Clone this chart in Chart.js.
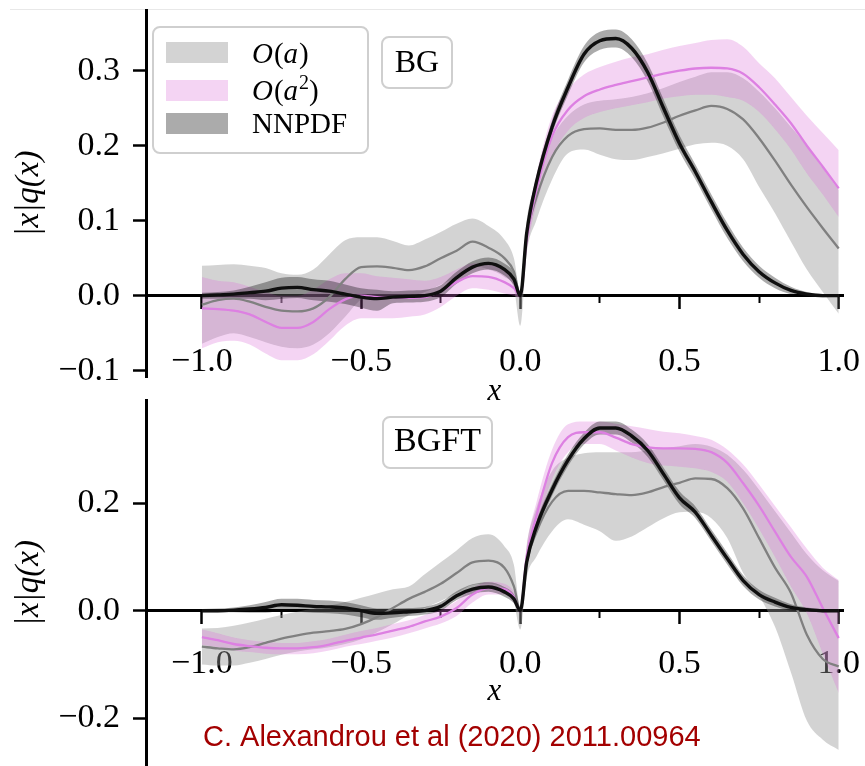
<!DOCTYPE html>
<html>
<head>
<meta charset="utf-8">
<script src="https://cdn.jsdelivr.net/npm/chart.js@4.4.1/dist/chart.umd.min.js"></script>
<style>
  html, body { margin: 0; padding: 0; background: #fff; }
  #wrap { position: relative; width: 865px; height: 766px; overflow: hidden; background: #fff; }
  canvas { position: absolute; left: 0; }
</style>
</head>
<body>
<div id="wrap">
  <div style="position:absolute;left:10px;top:9px;width:855px;height:0;border-top:1px solid #e8e8e8"></div>
  <canvas id="c1" width="865" height="410" style="top:0"></canvas>
  <canvas id="c2" width="865" height="376" style="top:390px"></canvas>
</div>
<script>
// ---------- data ----------
const X = [-1.0,-0.95,-0.9,-0.85,-0.8,-0.75,-0.7,-0.65,-0.6,-0.55,-0.5,-0.45,-0.4,-0.35,-0.3,-0.25,-0.2,-0.15,-0.1,-0.05,-0.02,0,0.02,0.05,0.1,0.15,0.2,0.25,0.3,0.35,0.4,0.45,0.5,0.55,0.6,0.65,0.7,0.75,0.8,0.85,0.9,0.95,1.0];

const SERIES = ['O(a)', 'O(a²)', 'NNPDF'];
const PANEL_LABELS = ['BG', 'BGFT'];
const X_MAJOR = [-1.0, -0.5, 0.0, 0.5, 1.0];
const X_MINOR = [-0.75, -0.25, 0.25, 0.75];
const Y_TICKS_BG = [-0.1, 0.0, 0.1, 0.2, 0.3];
const Y_TICKS_BGFT = [-0.2, 0.0, 0.2];
const Y_TITLE = '|x|q(x)';
const X_TITLE = 'x';
const CAPTION = 'C. Alexandrou et al (2020) 2011.00964';

// BG panel
const BG_OA    = [-0.012,-0.006,-0.004,-0.008,-0.015,-0.02,-0.021,-0.017,-0.002,0.022,0.038,0.039,0.037,0.034,0.039,0.05,0.06,0.072,0.064,0.05,0.032,0.0,0.08,0.13,0.185,0.213,0.222,0.223,0.221,0.221,0.224,0.231,0.24,0.247,0.253,0.249,0.235,0.21,0.18,0.148,0.118,0.09,0.063];
const BG_OA_HI = [0.04,0.041,0.042,0.04,0.037,0.03,0.028,0.035,0.055,0.074,0.078,0.078,0.073,0.067,0.075,0.085,0.096,0.103,0.093,0.075,0.05,0.005,0.1,0.15,0.21,0.24,0.255,0.26,0.262,0.265,0.27,0.277,0.285,0.292,0.298,0.298,0.29,0.272,0.25,0.225,0.2,0.17,0.141];
const BG_OA_LO = [-0.064,-0.055,-0.05,-0.055,-0.062,-0.068,-0.07,-0.065,-0.05,-0.028,-0.005,0.0,0.0,0.0,0.005,0.015,0.025,0.04,0.035,0.025,0.01,-0.04,0.055,0.1,0.155,0.19,0.195,0.188,0.182,0.181,0.185,0.19,0.196,0.202,0.204,0.2,0.182,0.145,0.11,0.072,0.035,0.005,-0.024];
const BG_OA2    = [-0.017,-0.018,-0.02,-0.025,-0.035,-0.043,-0.043,-0.035,-0.018,-0.005,0.0,-0.002,-0.003,-0.003,-0.002,0.006,0.018,0.026,0.025,0.018,0.01,0.0,0.075,0.14,0.213,0.248,0.266,0.275,0.281,0.286,0.291,0.296,0.3,0.303,0.304,0.303,0.296,0.278,0.255,0.23,0.2,0.172,0.143];
const BG_OA2_HI = [0.025,0.02,0.018,0.012,0.005,0.0,0.0,0.008,0.022,0.03,0.03,0.026,0.024,0.022,0.02,0.025,0.035,0.043,0.042,0.035,0.022,0.003,0.09,0.16,0.24,0.275,0.295,0.305,0.312,0.318,0.322,0.328,0.333,0.337,0.341,0.342,0.332,0.31,0.29,0.265,0.24,0.217,0.194];
const BG_OA2_LO = [-0.07,-0.062,-0.06,-0.065,-0.077,-0.086,-0.086,-0.078,-0.06,-0.04,-0.03,-0.03,-0.03,-0.028,-0.025,-0.015,0.0,0.01,0.008,0.003,0.0,-0.003,0.06,0.12,0.185,0.22,0.237,0.245,0.25,0.254,0.258,0.263,0.266,0.268,0.268,0.265,0.26,0.245,0.222,0.195,0.163,0.135,0.105];
const BG_NN    = [0.0,0.001,0.002,0.004,0.006,0.01,0.011,0.008,0.006,0.002,-0.002,-0.004,-0.002,-0.001,0.0,0.006,0.024,0.038,0.043,0.035,0.022,0.0,0.083,0.15,0.225,0.278,0.322,0.34,0.343,0.33,0.298,0.25,0.203,0.165,0.125,0.087,0.055,0.032,0.017,0.007,0.002,0.0,0.0];
const BG_NN_HI = [0.004,0.005,0.007,0.012,0.018,0.024,0.025,0.022,0.02,0.015,0.01,0.008,0.006,0.007,0.008,0.014,0.032,0.046,0.051,0.043,0.03,0.003,0.09,0.158,0.234,0.288,0.333,0.352,0.355,0.342,0.31,0.262,0.214,0.175,0.135,0.097,0.064,0.04,0.024,0.012,0.005,0.002,0.001];
const BG_NN_LO = [-0.004,-0.004,-0.004,-0.004,-0.006,-0.004,-0.003,-0.006,-0.008,-0.011,-0.016,-0.02,-0.01,-0.009,-0.008,-0.002,0.016,0.03,0.035,0.027,0.014,-0.003,0.076,0.142,0.216,0.268,0.311,0.328,0.331,0.318,0.286,0.238,0.192,0.155,0.115,0.077,0.046,0.024,0.01,0.002,-0.001,-0.002,-0.001];

// BGFT panel
const BGFT_OA    = [-0.067,-0.07,-0.072,-0.068,-0.06,-0.052,-0.046,-0.041,-0.038,-0.034,-0.025,-0.012,0.005,0.022,0.035,0.05,0.07,0.09,0.093,0.08,0.045,0.0,0.09,0.145,0.203,0.223,0.223,0.22,0.217,0.215,0.22,0.23,0.238,0.246,0.245,0.228,0.19,0.135,0.08,0.033,-0.045,-0.09,-0.104];
const BGFT_OA_HI = [-0.033,-0.032,-0.028,-0.022,-0.015,-0.008,-0.002,0.004,0.009,0.016,0.024,0.032,0.04,0.045,0.068,0.09,0.112,0.135,0.142,0.12,0.085,0.005,0.12,0.19,0.26,0.285,0.293,0.295,0.295,0.295,0.298,0.302,0.306,0.31,0.305,0.29,0.262,0.225,0.185,0.145,0.105,0.075,0.055];
const BGFT_OA_LO = [-0.1,-0.102,-0.102,-0.097,-0.09,-0.082,-0.076,-0.072,-0.068,-0.062,-0.053,-0.04,-0.025,-0.008,0.005,0.018,0.033,0.048,0.05,0.04,0.015,-0.035,0.06,0.1,0.148,0.17,0.16,0.148,0.13,0.138,0.155,0.172,0.183,0.184,0.172,0.135,0.07,0.028,-0.03,-0.115,-0.205,-0.24,-0.259];
const BGFT_OA2    = [-0.049,-0.055,-0.062,-0.066,-0.069,-0.07,-0.07,-0.068,-0.063,-0.056,-0.05,-0.044,-0.037,-0.03,-0.02,-0.011,0.005,0.03,0.042,0.04,0.025,0.0,0.1,0.175,0.275,0.323,0.332,0.332,0.322,0.31,0.304,0.302,0.302,0.301,0.295,0.275,0.237,0.195,0.147,0.1,0.063,0.005,-0.051];
const BGFT_OA2_HI = [-0.035,-0.042,-0.05,-0.055,-0.058,-0.06,-0.06,-0.057,-0.052,-0.045,-0.038,-0.032,-0.025,-0.018,-0.008,0.002,0.018,0.042,0.054,0.05,0.035,0.005,0.12,0.2,0.3,0.347,0.352,0.352,0.348,0.343,0.338,0.333,0.33,0.325,0.318,0.3,0.272,0.235,0.195,0.155,0.115,0.08,0.057];
const BGFT_OA2_LO = [-0.064,-0.068,-0.074,-0.077,-0.08,-0.081,-0.081,-0.079,-0.074,-0.067,-0.062,-0.056,-0.05,-0.042,-0.033,-0.024,-0.01,0.015,0.03,0.03,0.015,-0.005,0.08,0.15,0.245,0.295,0.31,0.31,0.298,0.285,0.275,0.27,0.268,0.265,0.258,0.24,0.2,0.152,0.1,0.045,-0.005,-0.08,-0.153];
const BGFT_NN    = [0.0,0.0,0.001,0.003,0.006,0.011,0.01,0.008,0.007,0.005,0.0,-0.005,-0.004,-0.002,0.0,0.008,0.028,0.04,0.044,0.035,0.022,0.0,0.09,0.155,0.225,0.28,0.32,0.34,0.34,0.325,0.298,0.254,0.21,0.183,0.14,0.097,0.056,0.03,0.016,0.006,0.002,0.0,0.0];
const BGFT_NN_HI = [0.003,0.004,0.006,0.01,0.016,0.022,0.022,0.02,0.019,0.016,0.01,0.004,0.004,0.005,0.007,0.016,0.036,0.049,0.053,0.044,0.03,0.003,0.098,0.165,0.236,0.291,0.331,0.352,0.352,0.337,0.31,0.266,0.222,0.194,0.151,0.108,0.066,0.039,0.024,0.012,0.006,0.003,0.002];
const BGFT_NN_LO = [-0.003,-0.003,-0.003,-0.004,-0.004,0.0,-0.002,-0.004,-0.005,-0.007,-0.012,-0.017,-0.013,-0.01,-0.007,0.0,0.02,0.031,0.035,0.026,0.014,-0.003,0.082,0.145,0.214,0.269,0.309,0.328,0.328,0.313,0.286,0.242,0.198,0.172,0.129,0.086,0.046,0.021,0.008,0.0,-0.002,-0.003,-0.002];

// ---------- styles ----------
const COL = {
  oaLine: 'rgb(128,128,128)', oaBand: 'rgba(150,150,150,0.42)',
  oa2Line: 'rgb(221,128,226)', oa2Band: 'rgba(218,112,214,0.30)',
  nnLine: 'rgb(15,15,15)', nnBand: 'rgba(0,0,0,0.33)'
};
const SERIF = '"Liberation Serif", "Times New Roman", serif';
Chart.defaults.font.family = SERIF;
Chart.defaults.color = '#000';

function pts(ys) { return X.map((x, i) => ({ x: x, y: ys[i] })); }

function band(hi, lo, color, order) {
  return [
    { data: pts(hi), fill: '+1', backgroundColor: color, borderColor: 'transparent', borderWidth: 0, pointRadius: 0, cubicInterpolationMode: 'monotone', order: order },
    { data: pts(lo), fill: false, borderColor: 'transparent', borderWidth: 0, pointRadius: 0, cubicInterpolationMode: 'monotone', order: order }
  ];
}
function line(label, ys, color, w, order) {
  return { label: label, data: pts(ys), borderColor: color, borderWidth: w, pointRadius: 0, fill: false, cubicInterpolationMode: 'monotone', order: order };
}

function fmt(v) {
  if (Math.abs(v) < 1e-9) return '0.0';
  return (v < 0 ? '\u2212' : '') + Math.abs(v).toFixed(1);
}
function zeroPad(s) { s.paddingLeft = 0; s.paddingRight = 0; s.paddingTop = 0; s.paddingBottom = 0; }

function roundRect(ctx, x0, y0, x1, y1, r) {
  ctx.beginPath();
  ctx.moveTo(x0 + r, y0);
  ctx.lineTo(x1 - r, y0); ctx.arcTo(x1, y0, x1, y0 + r, r);
  ctx.lineTo(x1, y1 - r); ctx.arcTo(x1, y1, x1 - r, y1, r);
  ctx.lineTo(x0 + r, y1); ctx.arcTo(x0, y1, x0, y1 - r, r);
  ctx.lineTo(x0, y0 + r); ctx.arcTo(x0, y0, x0 + r, y0, r);
  ctx.closePath();
}
function frame(ctx, x0, y0, x1, y1) {
  roundRect(ctx, x0, y0, x1, y1, 7);
  ctx.fillStyle = 'rgba(255,255,255,0.8)';
  ctx.fill();
  ctx.lineWidth = 2;
  ctx.strokeStyle = '#cfcfcf';
  ctx.stroke();
}
// math-like label: O and a italic, parentheses upright, ² as superscript
function drawMath(ctx, label, x, y, fs) {
  let runs;
  if (label.indexOf('(') < 0) runs = [{ t: label }];
  else runs = Array.from(label).map(c => c === '²' ? { t: '2', sup: true } : { t: c, it: /[A-Za-z]/.test(c) });
  ctx.textAlign = 'left';
  ctx.textBaseline = 'alphabetic';
  for (const r of runs) {
    const size = r.sup ? Math.round(fs * 0.7) : fs;
    ctx.font = (r.it ? 'italic ' : '') + size + 'px ' + SERIF;
    ctx.fillText(r.t, x, r.sup ? y - fs * 0.38 : y);
    x += ctx.measureText(r.t).width + (r.it ? 1 : 0);
  }
}

const annot = {
  id: 'annot',
  afterDraw(chart, args, o) {
    const ctx = chart.ctx;
    const ca = chart.chartArea;
    ctx.save();
    ctx.fillStyle = '#000';
    // x axis label
    ctx.font = 'italic 31px ' + SERIF;
    ctx.textAlign = 'center';
    ctx.textBaseline = 'alphabetic';
    ctx.fillText(X_TITLE, (ca.left + ca.right) / 2, o.xlabelY);
    // panel label box
    const b = o.box;
    frame(ctx, b[0], b[1], b[2], b[3]);
    ctx.fillStyle = '#000';
    ctx.font = o.labelSize + 'px ' + SERIF;
    ctx.textAlign = 'center';
    ctx.fillText(o.label, (b[0] + b[2]) / 2, o.labelBase);
    // legend
    if (o.legend) {
      frame(ctx, 153, 27, 368, 153);
      const sw = [COL.oaBand, COL.oa2Band, COL.nnBand];
      const tops = [42, 80, 113];
      const bases = [63, 100, 133];
      for (let i = 0; i < SERIES.length; i++) {
        ctx.fillStyle = '#fff';
        ctx.fillRect(166, tops[i], 62, 21);
        ctx.fillStyle = sw[i];
        ctx.fillRect(166, tops[i], 62, 21);
        ctx.fillStyle = '#000';
        drawMath(ctx, SERIES[i], 252, bases[i], 29);
      }
    }
    if (o.caption) {
      ctx.fillStyle = '#a30000';
      ctx.font = '29px "Liberation Sans", Arial, sans-serif';
      ctx.textAlign = 'left';
      ctx.textBaseline = 'alphabetic';
      ctx.fillText(CAPTION, 203, o.captionBase);
    }
    ctx.restore();
  }
};

function makePanel(id, d, yMin, yMax, yTicks, xPad, pad, annotOpts) {
  const datasets = [
    line(SERIES[2], d.nn, COL.nnLine, 3.4, 1),
    line(SERIES[1], d.oa2, COL.oa2Line, 2.3, 2),
    line(SERIES[0], d.oa, COL.oaLine, 2.3, 3),
    ...band(d.nnHi, d.nnLo, COL.nnBand, 8),
    ...band(d.oa2Hi, d.oa2Lo, COL.oa2Band, 9),
    ...band(d.oaHi, d.oaLo, COL.oaBand, 10)
  ];
  return new Chart(document.getElementById(id), {
    type: 'line',
    data: { datasets: datasets },
    plugins: [annot],
    options: {
      responsive: false,
      animation: false,
      devicePixelRatio: 1,
      events: [],
      layout: { padding: pad },
      plugins: { legend: { display: false }, tooltip: { enabled: false }, annot: annotOpts },
      scales: {
        x: {
          type: 'linear', position: { y: 0 }, min: -1.1755, max: 1.0135,
          afterBuildTicks: s => { s.ticks = X_MAJOR.map(v => ({ value: v })); },
          afterFit: zeroPad,
          ticks: { autoSkip: false, maxRotation: 0, padding: xPad, color: '#000', font: { family: SERIF, size: 34 }, callback: v => fmt(v) },
          grid: { drawOnChartArea: false, drawTicks: true, tickLength: 12, tickWidth: 2.5, tickColor: '#000' },
          border: { display: true, color: '#000', width: 3 }
        },
        x2: {
          type: 'linear', position: { y: 0 }, min: -1.1755, max: 1.0135,
          afterBuildTicks: s => { s.ticks = X_MINOR.map(v => ({ value: v })); },
          afterFit: zeroPad,
          ticks: { autoSkip: false, maxRotation: 0, callback: () => '' },
          grid: { drawOnChartArea: false, drawTicks: true, tickLength: 7, tickWidth: 2, tickColor: '#000' },
          border: { display: false }
        },
        y: {
          type: 'linear', position: 'left', min: yMin, max: yMax,
          afterBuildTicks: s => { s.ticks = yTicks.map(v => ({ value: v })); },
          afterFit: s => { s.width = 146; zeroPad(s); },
          ticks: { padding: 13, color: '#000', font: { family: SERIF, size: 34 }, callback: v => fmt(v) },
          grid: { drawOnChartArea: false, drawTicks: true, tickLength: 13, tickWidth: 2.5, tickColor: '#000' },
          border: { display: true, color: '#000', width: 3 },
          title: { display: true, text: Y_TITLE, color: '#000', font: { family: SERIF, size: 33, style: 'italic' }, padding: { top: 10, bottom: 0 } }
        }
      }
    }
  });
}

makePanel('c1',
  { oa: BG_OA, oaHi: BG_OA_HI, oaLo: BG_OA_LO, oa2: BG_OA2, oa2Hi: BG_OA2_HI, oa2Lo: BG_OA2_LO, nn: BG_NN, nnHi: BG_NN_HI, nnLo: BG_NN_LO },
  -0.1085, 0.381, Y_TICKS_BG, 34,
  { left: 0, top: 10, right: 22, bottom: 33 },
  { xlabelY: 400, box: [382, 37, 452, 88], label: PANEL_LABELS[0], labelSize: 32, labelBase: 72, legend: true, caption: false });

makePanel('c2',
  { oa: BGFT_OA, oaHi: BGFT_OA_HI, oaLo: BGFT_OA_LO, oa2: BGFT_OA2, oa2Hi: BGFT_OA2_HI, oa2Lo: BGFT_OA2_LO, nn: BGFT_NN, nnHi: BGFT_NN_HI, nnLo: BGFT_NN_LO },
  -0.289, 0.392, Y_TICKS_BGFT, 21,
  { left: 0, top: 10, right: 22, bottom: 0 },
  { xlabelY: 310, box: [383, 27, 492, 78], label: PANEL_LABELS[1], labelSize: 34, labelBase: 61, legend: false, caption: true, captionBase: 356 });
</script>
</body>
</html>
